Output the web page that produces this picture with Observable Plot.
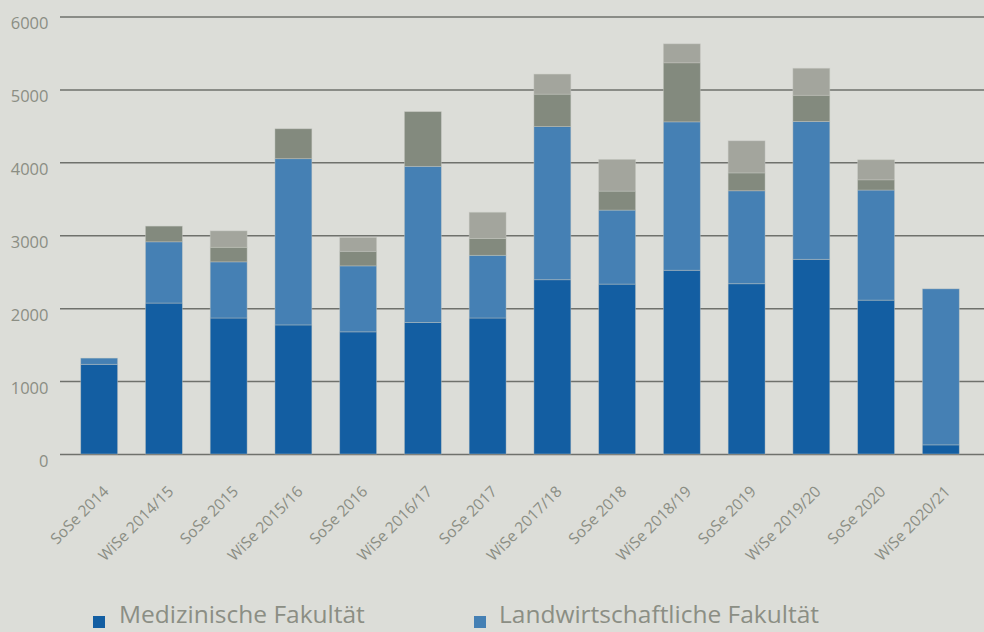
<!DOCTYPE html>
<html>
<head>
<meta charset="utf-8">
<script src="https://cdn.jsdelivr.net/npm/d3@7"></script>
<script src="https://cdn.jsdelivr.net/npm/@observablehq/plot@0.6"></script>
<style>
  html, body { margin: 0; padding: 0; background: #dcddd8; }
  body { width: 984px; height: 632px; font-family: "Open Sans", sans-serif; }
  #chart svg { display: block; }
  .legend { position: relative; height: 32px; }
  .legend .sw { position: absolute; width: 12px; height: 12px; top: 16px; }
  .legend .lb { position: absolute; top: 2px; font-size: 24.5px; line-height: 24.5px; color: #8b8e84; white-space: nowrap; }
</style>
</head>
<body>
<div id="chart"></div>
<div class="legend" id="legend"></div>
<script>
const categories = ["SoSe 2014","WiSe 2014/15","SoSe 2015","WiSe 2015/16","SoSe 2016","WiSe 2016/17","SoSe 2017","WiSe 2017/18","SoSe 2018","WiSe 2018/19","SoSe 2019","WiSe 2019/20","SoSe 2020","WiSe 2020/21"];
const medizin = [1230,2070,1865,1770,1675,1805,1865,2390,2330,2520,2335,2670,2110,125];
const landwirtschaft = [85,840,770,2280,905,2140,860,2100,1015,2035,1275,1890,1510,2140];
const grauDunkel = [0,215,200,410,200,750,230,445,260,810,245,360,140,0];
const grauHell = [0,0,225,0,190,0,360,275,435,260,440,370,275,0];
const seriesNames = ["Medizinische Fakultät","Landwirtschaftliche Fakultät","grau1","grau2"];
const seriesColors = ["#135ea2","#4580b4","#838a7e","#a3a59d"];
const yTicks = [0,1000,2000,3000,4000,5000,6000];

const seriesValues = [medizin, landwirtschaft, grauDunkel, grauHell];
const rows = [];
seriesNames.forEach((s, si) => {
  categories.forEach((c, ci) => rows.push({cat: c, series: s, value: seriesValues[si][ci]}));
});

const textColor = "#8b8e84";
const plot = Plot.plot({
  width: 984,
  height: 600,
  marginTop: 16.5,
  marginBottom: 146,
  marginLeft: 60,
  marginRight: 0,
  style: {background: "transparent", fontFamily: "'Open Sans', sans-serif"},
  x: {domain: categories, range: [60, 980], paddingInner: 0.43, paddingOuter: 0.32, round: false, axis: null},
  y: {domain: [0, 6000], axis: null},
  color: {domain: seriesNames, range: seriesColors},
  marks: [
    Plot.ruleY(yTicks, {stroke: "#6f716c", strokeWidth: 1.5}),
    Plot.barY(rows, {x: "cat", y: "value", fill: "series", order: seriesNames, stroke: "#c8c9c4", strokeOpacity: 0.5, strokeWidth: 0.8}),
    Plot.text(yTicks, {y: d => d, frameAnchor: "left", textAnchor: "end", dx: -12, dy: 7, fontSize: 16.5, fill: textColor, text: d => String(d)}),
    Plot.text(categories, {x: d => d, y: 0, text: d => d, rotate: -45, textAnchor: "end", lineAnchor: "bottom", dx: 10, dy: 38, fontSize: 15.5, fill: textColor})
  ]
});
document.getElementById("chart").appendChild(plot);

const legend = document.getElementById("legend");
const legendItems = [
  {name: seriesNames[0], color: seriesColors[0], sw: 93, lb: 119},
  {name: seriesNames[1], color: seriesColors[1], sw: 474, lb: 499}
];
legendItems.forEach(it => {
  const s = document.createElement("span");
  s.className = "sw"; s.style.left = it.sw + "px"; s.style.background = it.color;
  legend.appendChild(s);
  const t = document.createElement("span");
  t.className = "lb"; t.style.left = it.lb + "px"; t.textContent = it.name;
  legend.appendChild(t);
});
</script>
</body>
</html>
